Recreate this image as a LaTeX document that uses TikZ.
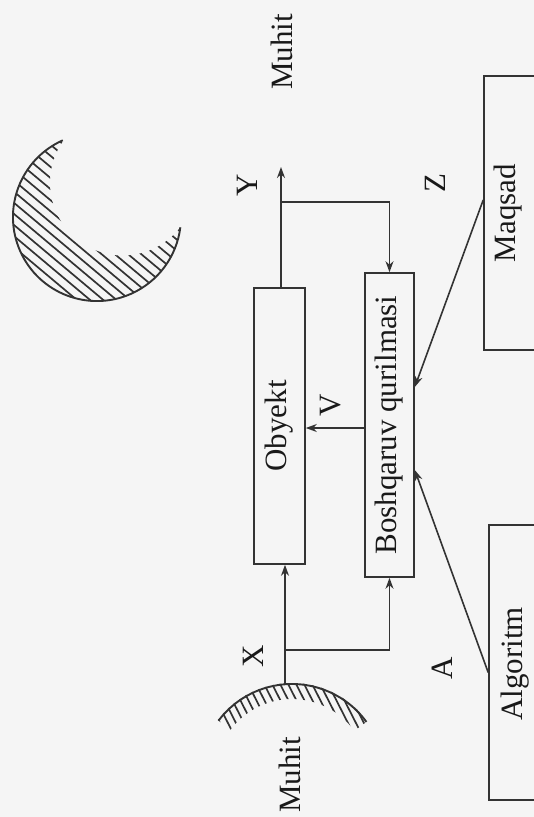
\documentclass[tikz,border=0pt]{standalone}
\usepackage{fontspec}
\setmainfont{Liberation Serif}
\usetikzlibrary{arrows.meta}
\begin{document}
\begin{tikzpicture}[x=1pt,y=1pt,
  lbl/.style={rotate=90,font=\fontsize{31}{31}\selectfont,inner sep=0pt,text=black!90},
  ln/.style={line width=1.6pt,draw=black!80},
  hatch/.style={line width=1.7pt,draw=black!80},
  boxst/.style={rotate=90,draw=black!80,line width=1.6pt,inner sep=0pt,font=\fontsize{31}{31}\selectfont,text=black!90},
  arr/.style={ln,-{Stealth[length=11pt,width=8pt]}}]
\fill[black!4] (0,0) rectangle (534,-817);
\useasboundingbox (0,0) rectangle (534,-817);
\clip (0,0) rectangle (534,-817);

% boxes
\node[boxst, minimum width=276pt, minimum height=51pt] (obj) at (279.5,-426) {Obyekt};
\node[boxst, minimum width=304pt, minimum height=49pt] (bq) at (389.5,-425) {Boshqaruv qurilmasi};
\node[boxst, minimum width=274pt, minimum height=60pt] (maq) at (514,-213) {};
\node[lbl] (maqt) at (508,-213) {Maqsad};
\node[boxst, minimum width=275pt, minimum height=55pt] (alg) at (516.5,-662.5) {};
\node[lbl] (algt) at (515,-664) {Algoritm};

% labels
\node[lbl] (muhtop) at (282,-52) {Muhit};
\node[lbl] (muhbot) at (290,-775) {Muhit};
\node[lbl] (ly) at (247,-185) {Y};
\node[lbl] (lz) at (435,-183) {Z};
\node[lbl] (lv) at (331,-405) {V};
\node[lbl] (lx) at (253,-656) {X};
\node[lbl] (la) at (442,-668) {A};

% crescent (environment, top)
\begin{scope}
\clip (62.8,-140.3) arc[start angle=114,end angle=353,radius=84]
      arc[start angle=-37.7,end angle=-215.6,radius=72.8] -- cycle;
\begin{scope}[rotate around={-40:(97,-217)}]
\foreach \k in {-22,...,22}
  \draw[hatch] (-33,-217+\k*8.5) -- (227,-217+\k*8.5);
\end{scope}
\end{scope}
\draw[line width=1.9pt,draw=black!80] (62.8,-140.3) arc[start angle=114,end angle=353,radius=84];

% environment arc (bottom)
\begin{scope}[shift={(292,-776)}]
\begin{scope}
\clip (36:93) arc[start angle=36,end angle=143,radius=93] -- (143:77)
      arc[start angle=143,end angle=36,radius=77] -- cycle;
\foreach \k in {-26,...,16}
  \draw[hatch] (\k*8,100) -- ++(-63:220);
\end{scope}
\draw[line width=1.9pt,draw=black!80] (36:92) arc[start angle=36,end angle=143,radius=92];
\end{scope}

% connection points
\coordinate (ytip) at (281,-167);
\coordinate (ybr) at (281,-202);
\coordinate (xst) at (285,-684);
\coordinate (xbr) at (285,-650);

% Y output
\draw[arr] (ytip |- obj.east) -- (ytip);
\draw[arr] (ybr) -| (bq.east);
% X input
\draw[arr] (xst) -- (xst |- obj.west);
\draw[arr] (xbr) -| (bq.west);
% V control
\draw[arr] ([yshift=-3pt]bq.north) -- ([yshift=-3pt]bq.north -| obj.south);
% Z goal
\draw[arr] ([yshift=13pt]maq.north) -- ([yshift=38pt]bq.south);
% A algorithm
\draw[arr] ([yshift=-10pt]alg.north) -- ([yshift=-45pt]bq.south);
\end{tikzpicture}
\end{document}
